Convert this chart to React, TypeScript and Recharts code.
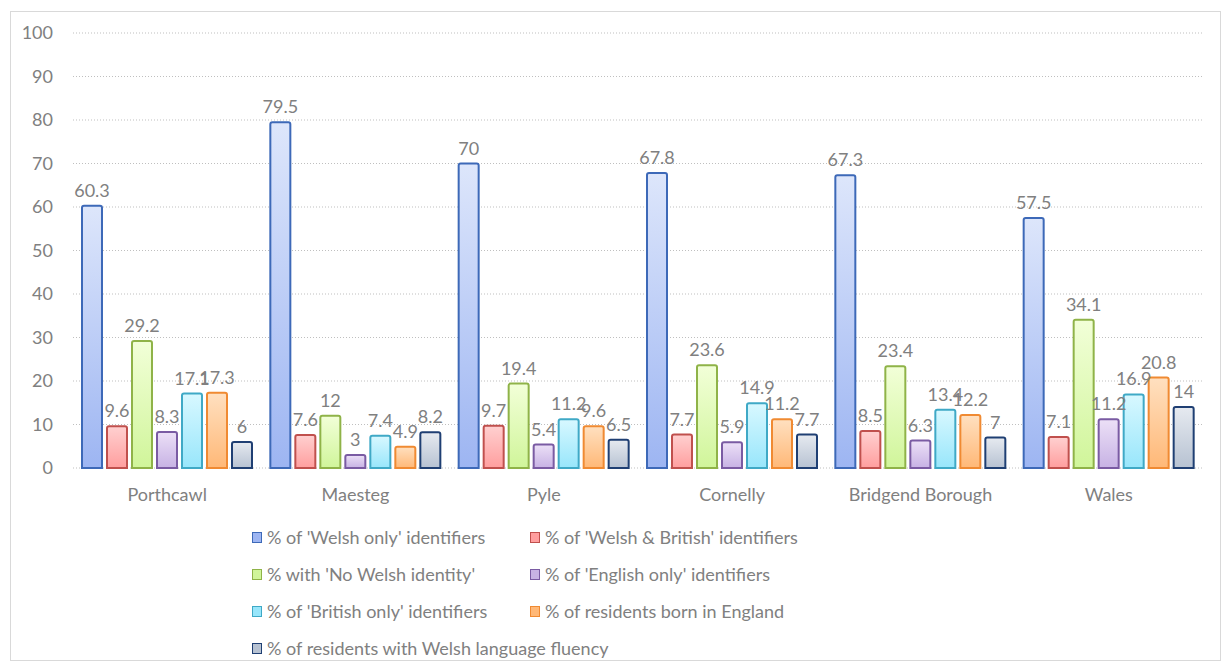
import { BarChart, Bar, XAxis, YAxis, CartesianGrid, LabelList } from 'recharts';

const areas = ['Porthcawl', 'Maesteg', 'Pyle', 'Cornelly', 'Bridgend Borough', 'Wales'];

const welshOnly = [60.3, 79.5, 70, 67.8, 67.3, 57.5];
const welshBritish = [9.6, 7.6, 9.7, 7.7, 8.5, 7.1];
const noWelsh = [29.2, 12, 19.4, 23.6, 23.4, 34.1];
const englishOnly = [8.3, 3, 5.4, 5.9, 6.3, 11.2];
const britishOnly = [17.1, 7.4, 11.2, 14.9, 13.4, 16.9];
const bornEngland = [17.3, 4.9, 9.6, 11.2, 12.2, 20.8];
const welshFluency = [6, 8.2, 6.5, 7.7, 7, 14];

const yTicks = [0, 10, 20, 30, 40, 50, 60, 70, 80, 90, 100];

const series = [
  { key: 'welshOnly', name: "% of 'Welsh only' identifiers", values: welshOnly, stroke: '#3d69b8', top: '#dde6fb', bottom: '#9db5f2' },
  { key: 'welshBritish', name: "% of 'Welsh & British' identifiers", values: welshBritish, stroke: '#c0504d', top: '#ffd0d0', bottom: '#ff9e9e' },
  { key: 'noWelsh', name: "% with 'No Welsh identity'", values: noWelsh, stroke: '#8fb348', top: '#f2ffd8', bottom: '#d0f59a' },
  { key: 'englishOnly', name: "% of 'English only' identifiers", values: englishOnly, stroke: '#7a5ba3', top: '#ece0f7', bottom: '#c7b2e4' },
  { key: 'britishOnly', name: "% of 'British only' identifiers", values: britishOnly, stroke: '#3fa9c6', top: '#d8f8ff', bottom: '#98e6fb' },
  { key: 'bornEngland', name: '% of residents born in England', values: bornEngland, stroke: '#f08a32', top: '#ffe0c0', bottom: '#ffb877' },
  { key: 'welshFluency', name: '% of residents with Welsh language fluency', values: welshFluency, stroke: '#1f3f73', top: '#e6eaf0', bottom: '#b7c2d2' },
];

const data = areas.map((area, i) => {
  const row: Record<string, string | number> = { area };
  series.forEach((s) => {
    row[s.key] = s.values[i];
  });
  return row;
});

const FONT = 'Lato, sans-serif';
const GREY = '#808080';

// legend is plain html under the plot, two columns like the Excel original
const LegendGrid = () => (
  <div
    style={{
      position: 'absolute',
      left: 252,
      top: 526,
      display: 'grid',
      gridTemplateColumns: '278px 360px',
      rowGap: 15,
      fontFamily: FONT,
      fontSize: 18,
      color: GREY,
    }}
  >
    {series.map((s) => (
      <div key={s.key} style={{ display: 'flex', alignItems: 'center', height: 22, whiteSpace: 'nowrap' }}>
        <span
          style={{
            display: 'inline-block',
            flexShrink: 0,
            width: 8,
            height: 9,
            border: `1.5px solid ${s.stroke}`,
            background: s.bottom,
            marginRight: 5,
          }}
        />
        {s.name}
      </div>
    ))}
  </div>
);

export default function App() {
  return (
    <div style={{ position: 'absolute', left: 0, top: 0, width: 1225, height: 665, background: '#fff' }}>
      <div
        style={{
          position: 'absolute',
          left: 10,
          top: 11,
          width: 1211,
          height: 650,
          border: '1px solid #d9d9d9',
          boxSizing: 'border-box',
        }}
      />
      <BarChart
        width={1225}
        height={665}
        data={data}
        margin={{ top: 33, right: 22, bottom: 167, left: 13 }}
        barCategoryGap={9}
        barGap={5}
      >
        <defs>
          {series.map((s) => (
            <linearGradient key={s.key} id={`grad-${s.key}`} x1="0" y1="0" x2="0" y2="1">
              <stop offset="0%" stopColor={s.top} />
              <stop offset="100%" stopColor={s.bottom} />
            </linearGradient>
          ))}
        </defs>
        <CartesianGrid vertical={false} stroke="#bfbfbf" strokeDasharray="1 2" />
        <XAxis
          dataKey="area"
          axisLine={false}
          tickLine={false}
          height={30}
          tick={{ fill: GREY, fontSize: 18, fontFamily: FONT }}
          tickMargin={14}
        />
        <YAxis
          domain={[0, 100]}
          ticks={yTicks}
          axisLine={false}
          tickLine={false}
          width={60}
          tick={{ fill: GREY, fontSize: 18, fontFamily: FONT }}
          tickMargin={14}
        />
        {series.map((s) => (
          <Bar
            key={s.key}
            dataKey={s.key}
            name={s.name}
            fill={`url(#grad-${s.key})`}
            stroke={s.stroke}
            strokeWidth={2}
            radius={[2, 2, 0, 0]}
            isAnimationActive={false}
          >
            <LabelList
              dataKey={s.key}
              position="top"
              offset={9}
              style={{ fill: GREY, fontSize: 18, fontFamily: FONT }}
            />
          </Bar>
        ))}
      </BarChart>
      <LegendGrid />
    </div>
  );
}
